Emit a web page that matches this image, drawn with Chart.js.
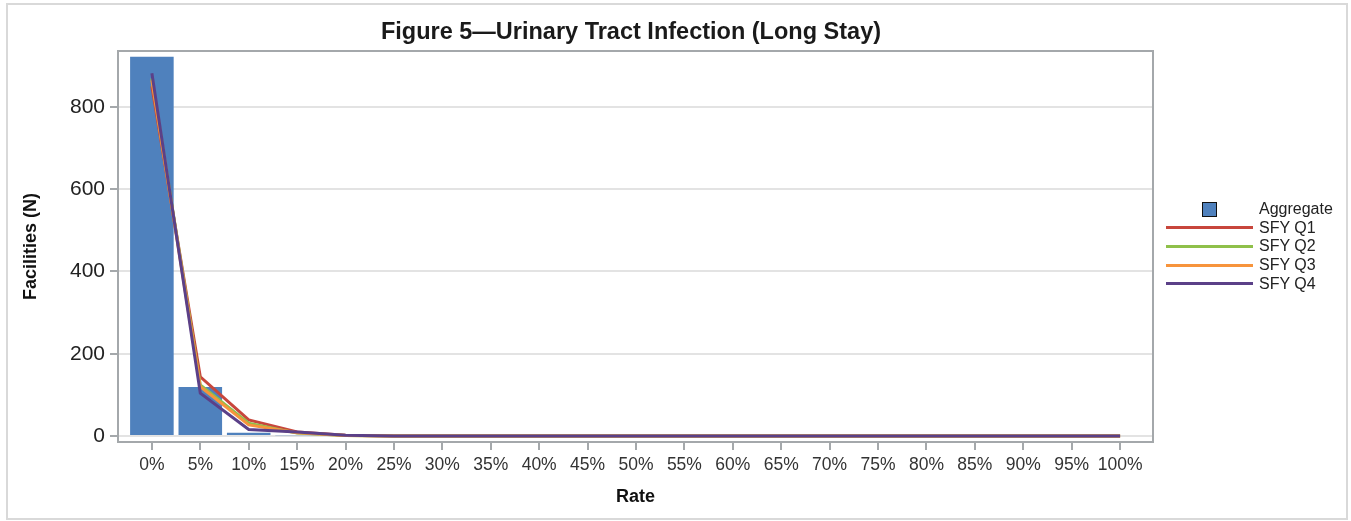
<!DOCTYPE html>
<html lang="en">
<head>
    <meta charset="UTF-8">
    <title>Figure 5 - Urinary Tract Infection (Long Stay)</title>
    <script src="https://cdn.jsdelivr.net/npm/chart.js"></script>
    <style>
        body { margin: 0; background: #fff; font-family: Arial, "Liberation Sans", sans-serif; }
        #wrap { position: relative; width: 1351px; height: 521px; }
        #chartTitle { position: absolute; left: 0; width: 1262px; top: 17px; text-align: center;
                      font-weight: bold; font-size: 23.5px; line-height: 28px; color: #1a1a1a; }
        #legend { position: absolute; left: 1166px; top: 200px; font-size: 16px; color: #222; }
        .row { height: 18.6px; display: flex; align-items: center; }
        .swatch { width: 87px; display: flex; justify-content: center; margin-right: 6px; }
        .box { width: 13px; height: 13px; background: #4f81bd; border: 1.5px solid #111; }
        .ln { width: 87px; height: 3px; }
    </style>
</head>
<body>

<div id="wrap">
    <canvas id="utiChart" width="1351" height="521"></canvas>
    <div id="chartTitle">Figure 5—Urinary Tract Infection (Long Stay)</div>
    <div id="legend"></div>
</div>

<script>
    // rate buckets (%)
    const rates = [0, 5, 10, 15, 20, 25, 30, 35, 40, 45, 50, 55, 60, 65, 70, 75, 80, 85, 90, 95, 100];

    // facility counts per bucket
    const aggregate = [922, 119, 8, 2, 0, 0, 0, 0, 0, 0, 0, 0, 0, 0, 0, 0, 0, 0, 0, 0, 0];
    const sfyQ1 = [850, 144, 39, 10, 2, 0, 0, 0, 0, 0, 0, 0, 0, 0, 0, 0, 0, 0, 0, 0, 0];
    const sfyQ2 = [870, 124, 31, 7, 1, 0, 0, 0, 0, 0, 0, 0, 0, 0, 0, 0, 0, 0, 0, 0, 0];
    const sfyQ3 = [865, 120, 27, 8, 1, 0, 0, 0, 0, 0, 0, 0, 0, 0, 0, 0, 0, 0, 0, 0, 0];
    const sfyQ4 = [882, 104, 16, 10, 2, 0, 0, 0, 0, 0, 0, 0, 0, 0, 0, 0, 0, 0, 0, 0, 0];

    const yTicks = [0, 200, 400, 600, 800];

    const lineSeries = [
        { label: 'SFY Q1', values: sfyQ1, color: '#c8463c', order: 4 },
        { label: 'SFY Q2', values: sfyQ2, color: '#8fc04a', order: 3 },
        { label: 'SFY Q3', values: sfyQ3, color: '#f7943c', order: 2 },
        { label: 'SFY Q4', values: sfyQ4, color: '#5b4088', order: 1 }
    ];

    function toPoints(values) {
        return rates.map((r, i) => ({ x: r, y: values[i] }));
    }

    // outer gray border + plot frame
    const framePlugin = {
        id: 'framePlugin',
        beforeDraw(chart) {
            const ctx = chart.ctx;
            ctx.save();
            ctx.fillStyle = '#fff';
            ctx.fillRect(0, 0, chart.width, chart.height);
            ctx.strokeStyle = '#d9d9d9';
            ctx.lineWidth = 2;
            ctx.strokeRect(7, 4, 1340, 515);
            ctx.restore();
        },
        afterDraw(chart) {
            const a = chart.chartArea;
            const ctx = chart.ctx;
            ctx.save();
            ctx.strokeStyle = '#a4a8ab';
            ctx.lineWidth = 2;
            ctx.strokeRect(a.left, a.top, a.right - a.left, a.bottom - a.top);
            ctx.restore();
        }
    };

    const datasets = [{
        type: 'bar',
        label: 'Aggregate',
        data: toPoints(aggregate),
        backgroundColor: '#4f81bd',
        borderWidth: 0,
        barPercentage: 0.9,
        categoryPercentage: 1.0,
        order: 10
    }];

    lineSeries.forEach(s => {
        datasets.push({
            type: 'line',
            label: s.label,
            data: toPoints(s.values),
            borderColor: s.color,
            backgroundColor: s.color,
            borderWidth: 3,
            pointRadius: 0,
            tension: 0,
            order: s.order
        });
    });

    new Chart(document.getElementById('utiChart'), {
        data: { datasets: datasets },
        options: {
            responsive: false,
            animation: false,
            layout: { padding: { left: 0, right: 198, top: 51, bottom: 0 } },
            plugins: {
                legend: { display: false },
                title: { display: false },
                tooltip: { enabled: false }
            },
            scales: {
                x: {
                    type: 'linear',
                    offset: false,
                    min: -3.5,
                    max: 103.4,
                    afterBuildTicks: scale => { scale.ticks = rates.map(v => ({ value: v })); },
                    afterFit: scale => { scale.height = 79; },
                    ticks: {
                        autoSkip: false,
                        maxRotation: 0,
                        padding: 5,
                        color: '#333',
                        font: { family: 'Arial', size: 17.5 },
                        callback: v => v + '%'
                    },
                    grid: { offset: false, drawOnChartArea: false, tickLength: 8, color: '#a4a8ab', lineWidth: 2 },
                    border: { color: '#a4a8ab', width: 2 },
                    title: {
                        display: true,
                        text: 'Rate',
                        color: '#111',
                        font: { family: 'Arial', size: 18, weight: 'bold' },
                        padding: { top: 0, bottom: 13 }
                    }
                },
                y: {
                    min: -14.6,
                    max: 936,
                    afterBuildTicks: scale => { scale.ticks = yTicks.map(v => ({ value: v })); },
                    afterFit: scale => { scale.width = 118; },
                    ticks: {
                        padding: 5,
                        color: '#222',
                        font: { family: 'Arial', size: 21 }
                    },
                    grid: { color: '#e3e3e3', lineWidth: 2, tickColor: '#a4a8ab', tickLength: 8 },
                    border: { color: '#a4a8ab', width: 2 },
                    title: {
                        display: true,
                        text: 'Facilities (N)',
                        color: '#111',
                        font: { family: 'Arial', size: 18, weight: 'bold' },
                        padding: { top: 20, bottom: 0 }
                    }
                }
            }
        },
        plugins: [framePlugin]
    });

    // legend (html)
    const legend = document.getElementById('legend');
    let html = '<div class="row"><div class="swatch"><div class="box"></div></div><span>Aggregate</span></div>';
    lineSeries.forEach(s => {
        html += '<div class="row"><div class="swatch"><div class="ln" style="background:' + s.color + '"></div></div><span>' + s.label + '</span></div>';
    });
    legend.innerHTML = html;
</script>

</body>
</html>
